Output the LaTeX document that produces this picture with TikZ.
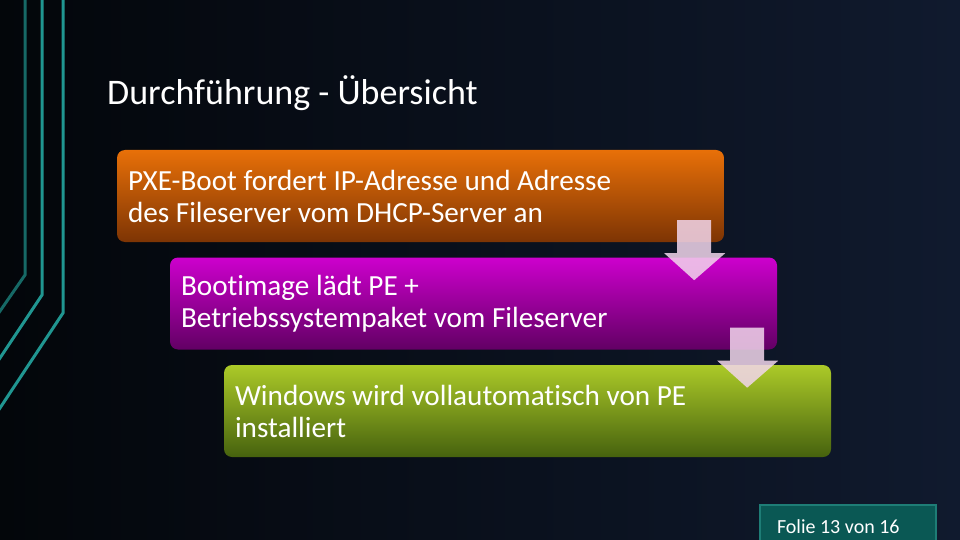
\documentclass[tikz,border=0pt]{standalone}
\usepackage{fontspec}
\setmainfont{Carlito}[Ligatures=NoCommon]
\usetikzlibrary{calc, positioning}
\definecolor{bgleft}{RGB}{3,6,10}
\definecolor{bgright}{RGB}{16,26,46}
\definecolor{tealline}{RGB}{32,150,145}
\definecolor{tealdim}{RGB}{22,105,102}
\definecolor{pxetop}{RGB}{232,112,8}
\definecolor{pxebot}{RGB}{125,52,4}
\definecolor{boottop}{RGB}{205,0,205}
\definecolor{bootbot}{RGB}{98,0,100}
\definecolor{wintop}{RGB}{172,202,40}
\definecolor{winbot}{RGB}{70,98,14}
\definecolor{arrowpink}{RGB}{242,214,236}
\definecolor{foliefill}{RGB}{10,88,84}
\definecolor{foliebord}{RGB}{30,125,118}
\begin{document}
\begin{tikzpicture}[x=1pt, y=-1pt,
  stepbox/.style={rectangle, rounded corners=8pt, minimum width=607pt, minimum height=92pt,
    text width=585pt, inner sep=11pt, align=flush left, text=white,
    font=\fontsize{29.2}{32}\selectfont},
  flowarrow/.style={fill=arrowpink, fill opacity=0.85},
  deco/.style={line width=3pt, draw=tealline}]
\useasboundingbox (0,0) rectangle (960,540);
\clip (0,0) rectangle (960,540);
\shade[left color=bgleft, right color=bgright] (0,0) rectangle (960,540);
\draw[deco, draw=tealdim] (25,-5) -- (25,275) -- (-2,314);
\draw[deco] (42,-5) -- (42,295) -- (-2,361);
\draw[deco] (63,-5) -- (63,313) -- (-2,411);
\node (Title) [anchor=base west, inner sep=0pt, text=white, font=\fontsize{36}{40}\selectfont] at (107,105) {Durchführung - Übersicht};
\node (PXE) [stepbox, top color=pxetop, bottom color=pxebot] at (420.5,196) {PXE-Boot fordert IP-Adresse und Adresse\\des Fileserver vom DHCP-Server an};
\node (Boot) [stepbox, top color=boottop, bottom color=bootbot] at (473.5,303.5) {Bootimage lädt PE +\\Betriebssystempaket vom Fileserver};
\node (Win) [stepbox, top color=wintop, bottom color=winbot] at (527.5,411) {Windows wird vollautomatisch von PE\\installiert};
\foreach \a in {PXE, Boot}
  \fill[flowarrow] ($(\a.south east)+(-47,-22)$) -- ++(34,0) -- ++(0,33) -- ++(14,0)
    -- ++(-31,27) -- ++(-30,-27) -- ++(13,0) -- cycle;
\node (Folie) [anchor=north west, draw=foliebord, fill=foliefill, line width=2pt,
  minimum width=176pt, minimum height=44pt, text width=142pt, inner xsep=17pt,
  align=flush left, text=white, font=\fontsize{20}{22}\selectfont] at (759,504) {Folie 13 von 16};
\end{tikzpicture}
\end{document}
